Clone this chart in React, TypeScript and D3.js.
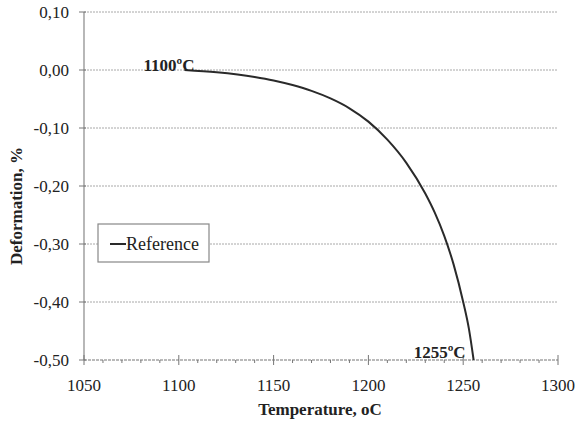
import React from 'react';
import * as d3 from 'd3';

const temps = [1103, 1120, 1140, 1150, 1160, 1170, 1180, 1190, 1200, 1210, 1220, 1230, 1235, 1240, 1245, 1250, 1253, 1255.5];
const deform = [0, -0.004, -0.012, -0.018, -0.026, -0.036, -0.049, -0.066, -0.089, -0.12, -0.16, -0.213, -0.246, -0.286, -0.336, -0.4, -0.446, -0.5];
const xTicks = [1050, 1100, 1150, 1200, 1250, 1300];
const yTicks = [0.1, 0, -0.1, -0.2, -0.3, -0.4, -0.5];
const seriesName = 'Reference';
const startLabel = '1100ºC';
const endLabel = '1255ºC';

const W = 576;
const H = 426;
const m = { left: 84, right: 18, top: 12, bottom: 66 };

function fmt(v: number) {
  return v.toFixed(2).replace('.', ',');
}

export default function App() {
  const x = d3.scaleLinear().domain([1050, 1300]).range([m.left, W - m.right]);
  const y = d3.scaleLinear().domain([-0.5, 0.1]).range([H - m.bottom, m.top]);
  const pts = temps.map((t, i) => [t, deform[i]] as [number, number]);
  const line = d3
    .line<[number, number]>()
    .x(d => x(d[0]))
    .y(d => y(d[1]))
    .curve(d3.curveMonotoneX);
  const minor = d3.range(1050, 1301, 10);
  const font = '"Liberation Serif", "Times New Roman", serif';

  return (
    <svg width={W} height={H} style={{ position: 'absolute', left: 0, top: 0, background: '#fff' }} fontFamily={font}>
      {/* grid */}
      {yTicks.filter(v => v > -0.5).map(v => (
        <line key={v} x1={x(1050)} x2={x(1300)} y1={y(v)} y2={y(v)} stroke="#a8a8a8" strokeWidth={1} strokeDasharray="2,1" />
      ))}
      {/* y axis */}
      <line x1={x(1050)} x2={x(1050)} y1={y(0.1)} y2={y(-0.5)} stroke="#888" strokeWidth={1.2} />
      {yTicks.map(v => (
        <g key={v}>
          <line x1={x(1050) - 5} x2={x(1050) + 2} y1={y(v)} y2={y(v)} stroke="#777" />
          <text x={69} y={y(v)} dy="0.35em" textAnchor="end" fontSize={17} fill="#222">
            {fmt(v)}
          </text>
        </g>
      ))}
      {/* x axis */}
      <line x1={x(1050)} x2={x(1300)} y1={y(-0.5)} y2={y(-0.5)} stroke="#777" strokeWidth={1.2} strokeDasharray="3,1" />
      {minor.map(v => (
        <line key={v} x1={x(v)} x2={x(v)} y1={y(-0.5) - (v % 50 === 0 ? 5 : 0)} y2={y(-0.5) + (v % 50 === 0 ? 5 : 3)} stroke="#777" />
      ))}
      {xTicks.map(v => (
        <text key={v} x={x(v)} y={y(-0.5) + 31} textAnchor="middle" fontSize={17} fill="#222">
          {v}
        </text>
      ))}
      {/* titles */}
      <text x={320} y={415} textAnchor="middle" fontSize={17} fontWeight="bold" fill="#222">
        Temperature, oC
      </text>
      <text transform={`translate(22, ${(y(0.1) + y(-0.5)) / 2 + 20}) rotate(-90)`} textAnchor="middle" fontSize={17} fontWeight="bold" fill="#222">
        Deformation, %
      </text>
      {/* curve */}
      <path d={line(pts) || ''} fill="none" stroke="#2a2a2a" strokeWidth={2} />
      {/* annotations */}
      <text x={x(temps[0]) + 10} y={y(0) + 1} textAnchor="end" fontSize={17} fontWeight="bold" fill="#222">
        {startLabel}
      </text>
      <text x={x(temps[temps.length - 1]) - 8} y={y(-0.5) - 2} textAnchor="end" fontSize={17} fontWeight="bold" fill="#222">
        {endLabel}
      </text>
      {/* legend */}
      <rect x={98} y={224} width={111} height={38} fill="#fff" stroke="#888" strokeWidth={1.2} />
      <line x1={110} x2={126} y1={244} y2={244} stroke="#2a2a2a" strokeWidth={2} />
      <text x={126} y={244} dy="0.35em" fontSize={18} fill="#222">
        {seriesName}
      </text>
    </svg>
  );
}
